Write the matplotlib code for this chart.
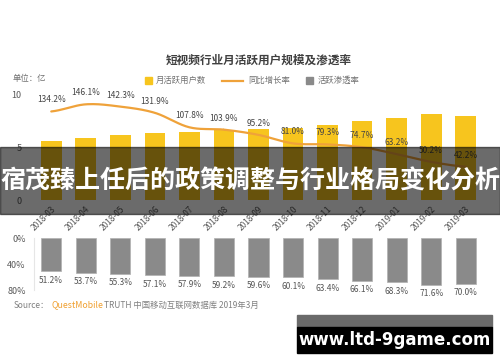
import numpy as np
import matplotlib
matplotlib.use("Agg")
import matplotlib.pyplot as plt
from matplotlib.patches import Rectangle
from matplotlib.lines import Line2D

plt.rcParams['font.family'] = ['Noto Sans CJK SC', 'DejaVu Sans']

months = ["2018-03", "2018-04", "2018-05", "2018-06", "2018-07", "2018-08", "2018-09",
          "2018-10", "2018-11", "2018-12", "2019-01", "2019-02", "2019-03"]
mau = [5.59, 5.88, 6.10, 6.29, 6.44, 6.63, 6.67, 6.76, 7.10, 7.48, 7.71, 8.11, 7.95]
growth = [134.2, 146.1, 142.3, 131.9, 107.8, 103.9, 95.2, 81.0, 79.3, 74.7, 63.2, 50.2, 42.2]
penetration = [51.2, 53.7, 55.3, 57.1, 57.9, 59.2, 59.6, 60.1, 63.4, 66.1, 68.3, 71.6, 70.0]
y_ticks_top = [0, 5, 10]
y_ticks_bottom = [0, 40, 80]

W, H = 500, 362
fig = plt.figure(figsize=(W / 100, H / 100), dpi=100)
fig.patch.set_facecolor("white")

def fx(x):
    return x / W

def fy(y):
    return 1 - y / H

YELLOW = "#F7C51E"
ORANGE = "#EFA23A"
GRAY = "#8a8a8a"
TXT = "#595959"

# ---------- upper axes ----------
left_px, right_px = 34, 483
top_px, bot_px = 94, 200
ax = fig.add_axes([fx(left_px), fy(bot_px), fx(right_px - left_px), (bot_px - top_px) / H])
x = np.arange(len(months))
ax.bar(x, mau, width=0.6, color=YELLOW, zorder=2)
ax.set_xlim(-0.5, len(months) - 0.5)
ax.set_ylim(0, 10)
ax.set_yticks(y_ticks_top)
ax.set_yticklabels([str(v) for v in y_ticks_top], fontsize=6.5, color=TXT)
ax.tick_params(axis='y', length=0, pad=9)
ax.set_xticks(x)
ax.set_xticklabels(months, rotation=45, ha='right', va='top', rotation_mode='anchor',
                   fontsize=6, color=TXT)
ax.tick_params(axis='x', length=0, pad=3)
for s in ax.spines.values():
    s.set_visible(False)
ax.patch.set_alpha(0)

ax2 = ax.twinx()
ax2.set_ylim(-13.3, 163.3)
ax2.axis('off')
# smooth curve through the growth points (Catmull-Rom drawing)
g = np.array(growth, dtype=float)
xs, ys = [], []
pts = np.concatenate([[g[0]], g, [g[-1]]])
for i in range(len(g) - 1):
    p0, p1, p2, p3 = pts[i], pts[i + 1], pts[i + 2], pts[i + 3]
    t = np.linspace(0, 1, 20)
    yy = 0.5 * ((2 * p1) + (-p0 + p2) * t + (2 * p0 - 5 * p1 + 4 * p2 - p3) * t ** 2
                + (-p0 + 3 * p1 - 3 * p2 + p3) * t ** 3)
    xs.extend(i + t)
    ys.extend(yy)
ax2.plot(xs, ys, color=ORANGE, lw=1.6, zorder=3, solid_capstyle='round')
for i, v in enumerate(growth):
    ax2.annotate(f"{v:.1f}%", (i, v), xytext=(0, 7), textcoords='offset pixels',
                 ha='center', va='bottom', fontsize=6, color="#444444", zorder=4)

# ---------- lower axes ----------
lt, lb = 238, 290
axb = fig.add_axes([fx(left_px), fy(lb), fx(right_px - left_px), (lb - lt) / H])
axb.bar(x, penetration, width=0.58, color=GRAY, edgecolor="#b0b0b0", linewidth=0.5)
axb.set_xlim(-0.5, len(months) - 0.5)
axb.set_ylim(80, 0)
axb.set_yticks(y_ticks_bottom)
axb.set_yticklabels([f"{v}%" for v in y_ticks_bottom], fontsize=6.5, color=TXT)
axb.tick_params(axis='y', length=0, pad=6)
axb.set_xticks([])
for k in ['top', 'right', 'bottom']:
    axb.spines[k].set_visible(False)
axb.spines['left'].set_color("#e6e6e6")
axb.spines['left'].set_linewidth(0.8)
for i, v in enumerate(penetration):
    axb.annotate(f"{v:.1f}%", (i, v), xytext=(0, -9), textcoords='offset pixels',
                 ha='center', va='center', fontsize=6, color="#555555")

# ---------- titles, legend, notes ----------
fig.text(fx(259), fy(60), "短视频行业月活跃用户规模及渗透率", ha='center', va='center',
         fontsize=8.4, fontweight='bold', color="#404040")
fig.text(fx(13), fy(79), "单位：亿", ha='left', va='center', fontsize=6, color="#707070")

fig.add_artist(Rectangle((fx(145), fy(84)), fx(7), 7 / H, color=YELLOW, transform=fig.transFigure))
fig.text(fx(156), fy(80), "月活跃用户数", ha='left', va='center', fontsize=6, color="#707070")
fig.add_artist(Line2D([fx(222), fx(243)], [fy(81), fy(81)], color=ORANGE, lw=1.6,
                      transform=fig.transFigure))
fig.text(fx(248), fy(80), "同比增长率", ha='left', va='center', fontsize=6, color="#707070")
fig.add_artist(Rectangle((fx(306), fy(84)), fx(7), 7 / H, color=GRAY, transform=fig.transFigure))
fig.text(fx(318), fy(80), "活跃渗透率", ha='left', va='center', fontsize=6, color="#707070")

fig.text(fx(14), fy(305), "Source：", ha='left', va='center', fontsize=6, color="#808080")
fig.text(fx(52), fy(305), "QuestMobile", ha='left', va='center', fontsize=6.3, color="#F0A030")
fig.text(fx(104), fy(305), "TRUTH 中国移动互联网数据库 2019年3月", ha='left', va='center',
         fontsize=6, color="#808080")

# ---------- overlay banner ----------
fig.add_artist(Rectangle((0, fy(214)), 1, (214 - 147) / H, color="black", alpha=0.58,
                         transform=fig.transFigure, zorder=10))
fig.text(0.5, fy(182), "宿茂臻上任后的政策调整与行业格局变化分析", ha='center', va='center',
         fontsize=18, fontweight='bold', color="white", zorder=11)

# ---------- watermark ----------
fig.add_artist(Rectangle((fx(297), fy(327)), fx(195), 12 / H, color="#6a6a6a",
                         transform=fig.transFigure, zorder=10))
fig.add_artist(Rectangle((fx(297), fy(353)), fx(195), 26 / H, color="black",
                         transform=fig.transFigure, zorder=10))
fig.text(fx(395), fy(340), "www.ltd-9game.com", ha='center', va='center', fontsize=12,
         fontweight='bold', color="white", family='DejaVu Sans', zorder=11)

fig.savefig("out.png", dpi=100, facecolor="white")
